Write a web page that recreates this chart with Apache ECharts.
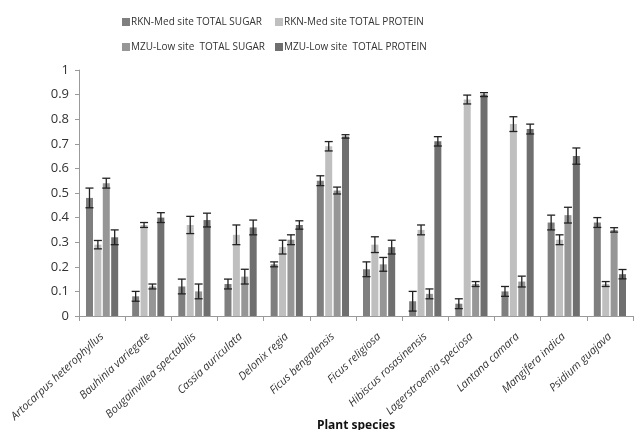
<!DOCTYPE html>
<html>
<head>
<meta charset="utf-8">
<style>
  html, body { margin: 0; padding: 0; background: #fff; }
  #chart { width: 634px; height: 430px; }
</style>
<script src="https://cdn.jsdelivr.net/npm/echarts@6/dist/echarts.min.js"></script>
</head>
<body>
<div id="chart"></div>
<script>
/* --- data --- */
const species = [
  'Artocarpus heterophyllus', 'Bauhinia variegate', 'Bougainvillea spectabilis',
  'Cassia auriculata', 'Delonix regia', 'Ficus bengalensis', 'Ficus religiosa',
  'Hibiscus rosasinensis', 'Lagerstroemia speciosa', 'Lantana camara',
  'Mangifera indica', 'Psidium guajava'
];
const seriesNames = [
  'RKN-Med site TOTAL SUGAR', 'RKN-Med site TOTAL PROTEIN',
  'MZU-Low site  TOTAL SUGAR', 'MZU-Low site  TOTAL PROTEIN'
];
const rknSugar    = [0.48, 0.08, 0.12, 0.13, 0.21, 0.55, 0.19, 0.06, 0.05, 0.10, 0.38, 0.38];
const rknSugarErr = [0.04, 0.02, 0.03, 0.02, 0.01, 0.02, 0.03, 0.04, 0.02, 0.02, 0.03, 0.02];
const rknProt     = [0.29, 0.37, 0.37, 0.33, 0.28, 0.69, 0.29, 0.35, 0.88, 0.78, 0.31, 0.13];
const rknProtErr  = [0.017, 0.01, 0.035, 0.04, 0.028, 0.019, 0.032, 0.02, 0.018, 0.03, 0.02, 0.01];
const mzuSugar    = [0.54, 0.12, 0.10, 0.16, 0.31, 0.51, 0.21, 0.09, 0.13, 0.14, 0.41, 0.35];
const mzuSugarErr = [0.02, 0.01, 0.03, 0.03, 0.02, 0.014, 0.028, 0.02, 0.01, 0.022, 0.032, 0.009];
const mzuProt     = [0.32, 0.40, 0.39, 0.36, 0.37, 0.73, 0.28, 0.71, 0.90, 0.76, 0.65, 0.17];
const mzuProtErr  = [0.03, 0.02, 0.028, 0.03, 0.017, 0.007, 0.028, 0.019, 0.008, 0.02, 0.033, 0.019];
const yTicks = [0, 1, 0.1];   // min, max, interval

const values = [rknSugar, rknProt, mzuSugar, mzuProt];
const errors = [rknSugarErr, rknProtErr, mzuSugarErr, mzuProtErr];
const colors = ['#7f7f7f', '#bfbfbf', '#969696', '#6f6f6f'];

const BAR_W = 7;
const PITCH = 8.4;   // bar width + gap

const chart = echarts.init(document.getElementById('chart'));

const font = '"Open Sans", "Liberation Sans", sans-serif';

const barSeries = values.map((v, i) => ({
  name: seriesNames[i],
  type: 'bar',
  data: v,
  barWidth: BAR_W,
  barGap: '20%',
  itemStyle: { color: colors[i] },
  emphasis: { disabled: true }
}));

// error bars drawn on top, shifted to sit on their bar
const errSeries = values.map((v, i) => ({
  type: 'custom',
  silent: true,
  z: 5,
  data: v.map((val, k) => [k, val, errors[i][k]]),
  renderItem: (params, api) => {
    const k = api.value(0), val = api.value(1), e = api.value(2);
    const off = (i - 1.5) * PITCH;
    const top = api.coord([k, val + e]);
    const bot = api.coord([k, Math.max(val - e, 0)]);
    const x = top[0] + off;
    const hw = 4;
    const style = { stroke: '#222', lineWidth: 1.3 };
    return {
      type: 'group',
      children: [
        { type: 'line', shape: { x1: x, y1: top[1], x2: x, y2: bot[1] }, style },
        { type: 'line', shape: { x1: x - hw, y1: top[1], x2: x + hw, y2: top[1] }, style },
        { type: 'line', shape: { x1: x - hw, y1: bot[1], x2: x + hw, y2: bot[1] }, style }
      ]
    };
  }
}));

// one legend per entry so the two columns line up like the original
const legendPos = [[117, 12], [270, 12], [117, 37], [270, 37]];
const legends = seriesNames.map((n, i) => ({
  left: legendPos[i][0], top: legendPos[i][1], data: [n],
  itemWidth: 8, itemHeight: 8, icon: 'rect',
  textStyle: { fontFamily: font, fontSize: 10, color: '#333', padding: [0, 0, 0, -4] },
  selectedMode: false
}));

chart.setOption({
  animation: false,
  color: colors,
  legend: legends,
  grid: { left: 79, right: 1, top: 70, bottom: 114, outerBoundsMode: 'none', containLabel: false },
  xAxis: {
    type: 'category',
    data: species,
    name: 'Plant species',
    nameLocation: 'middle',
    nameGap: 104,
    nameMoveOverlap: false,
    nameTextStyle: { fontFamily: font, fontSize: 12, fontWeight: 'bold', color: '#111' },
    axisLine: { lineStyle: { color: '#9a9a9a' } },
    axisTick: { show: true, length: 5, lineStyle: { color: '#9a9a9a' } },
    axisLabel: {
      rotate: 43,
      interval: 0,
      margin: 19,
      fontFamily: font,
      fontStyle: 'italic',
      fontSize: 11,
      color: '#333'
    }
  },
  yAxis: {
    type: 'value',
    min: yTicks[0],
    max: yTicks[1],
    interval: yTicks[2],
    splitLine: { show: false },
    axisLine: { show: true, lineStyle: { color: '#9a9a9a' } },
    axisTick: { show: true, length: 4, lineStyle: { color: '#9a9a9a' } },
    axisLabel: { fontFamily: font, fontSize: 13, color: '#333', margin: 10 }
  },
  series: barSeries.concat(errSeries)
});
</script>
</body>
</html>
